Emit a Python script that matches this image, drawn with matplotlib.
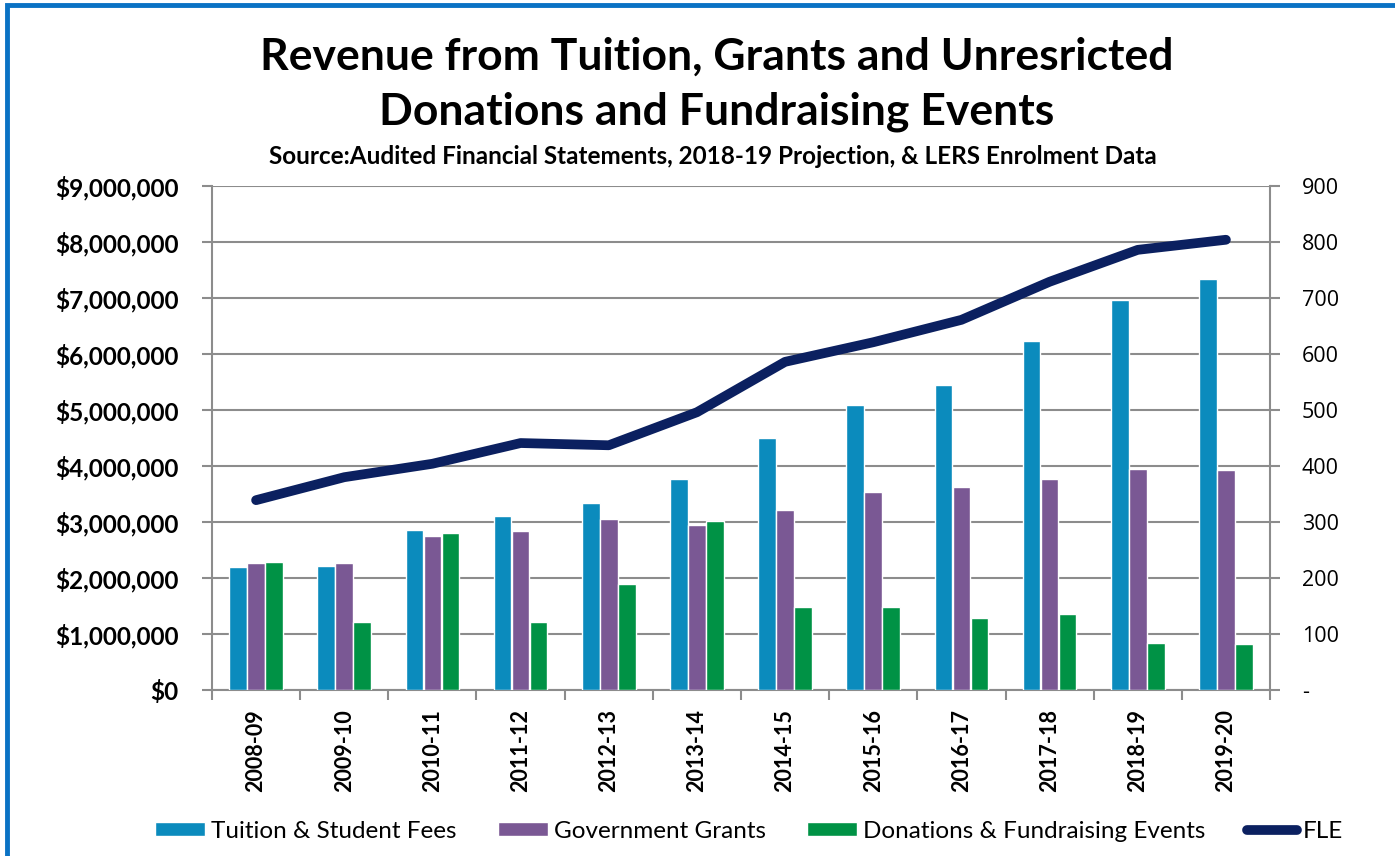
import numpy as np
import matplotlib.pyplot as plt
from matplotlib.ticker import FuncFormatter, FixedLocator
from matplotlib.patches import Rectangle

# chart data
years = ["2008-09", "2009-10", "2010-11", "2011-12", "2012-13", "2013-14",
         "2014-15", "2015-16", "2016-17", "2017-18", "2018-19", "2019-20"]
tuition = [2200000, 2210000, 2860000, 3110000, 3340000, 3770000,
           4500000, 5090000, 5450000, 6230000, 6960000, 7340000]
grants = [2270000, 2270000, 2750000, 2840000, 3050000, 2950000,
          3210000, 3540000, 3620000, 3770000, 3950000, 3930000]
donations = [2290000, 1210000, 2800000, 1210000, 1890000, 3020000,
             1480000, 1480000, 1290000, 1350000, 840000, 820000]
fle = [339, 380, 404, 441, 437, 496, 586, 621, 661, 729, 786, 804]

plt.rcParams['font.family'] = ['Lato', 'DejaVu Sans']

fig = plt.figure(figsize=(13.95, 8.56), dpi=100)
# blue frame round the chart (right and bottom edges fall outside the picture)
fig.patches.append(Rectangle((7/1395, -0.05), 1.1, 1.05 - 5/856, transform=fig.transFigure,
                             fill=False, edgecolor='#0a72c4', linewidth=3.5))

ax = fig.add_axes([212/1395, 1-690/856, (1270-212)/1395, (690-186)/856])
ax2 = ax.twinx()

x = np.arange(len(years))
w = 0.2
ax.bar(x - w*1.02, tuition, w, color='#0b8bbd', edgecolor='white', linewidth=1.0,
       label='Tuition & Student Fees', zorder=3)
ax.bar(x, grants, w, color='#7a5894', edgecolor='white', linewidth=1.0,
       label='Government Grants', zorder=3)
ax.bar(x + w*1.02, donations, w, color='#009245', edgecolor='white', linewidth=1.0,
       label='Donations & Fundraising Events', zorder=3)
ax2.plot(x, fle, color='#0b2060', linewidth=7, solid_capstyle='round',
         solid_joinstyle='round', label='FLE', zorder=4)

ax.set_xlim(-0.5, len(years) - 0.5)
ax.set_ylim(0, 9000000)
ax2.set_ylim(0, 900)
ax.set_yticks(np.arange(0, 9000001, 1000000))
ax2.set_yticks(np.arange(0, 901, 100))
ax.yaxis.set_major_formatter(FuncFormatter(lambda v, p: '${:,.0f}'.format(v)))
ax2.yaxis.set_major_formatter(FuncFormatter(lambda v, p: '-' if v == 0 else '{:.0f}'.format(v)))

ax.grid(axis='y', color='#8c8c8c', linewidth=1.5, zorder=0)
ax.set_axisbelow(True)
for a in (ax, ax2):
    for s in a.spines.values():
        s.set_color('#8c8c8c')
        s.set_linewidth(1.5)
    a.spines['top'].set_visible(False)
ax.spines['right'].set_visible(False)
ax2.spines['left'].set_visible(False)
ax2.spines['bottom'].set_visible(False)

ax.set_xticks(x)
ax.set_xticklabels(years, rotation=90, fontsize=15.5, fontweight='bold')
ax.xaxis.set_minor_locator(FixedLocator(np.arange(-0.5, len(years), 1)))
ax.tick_params(axis='x', which='major', length=0, pad=14)
ax.tick_params(axis='x', which='minor', length=7, color='#8c8c8c', width=1.5)
ax.tick_params(axis='y', length=7, color='#8c8c8c', width=1.5, labelsize=17.5, pad=17)
for t in ax.get_yticklabels():
    t.set_fontweight('bold')
ax2.tick_params(axis='y', length=7, color='#8c8c8c', width=1.5, pad=16)
for t in ax2.get_yticklabels():
    t.set_fontfamily(['Open Sans', 'DejaVu Sans'])
    t.set_fontsize(15.5)

fig.text(0.5135, 0.901, "Revenue from Tuition, Grants and Unresricted\nDonations and Fundraising Events",
         ha='center', va='center', fontsize=32, fontweight='bold', linespacing=1.45)
fig.text(0.511, 0.817, "Source:Audited Financial Statements, 2018-19 Projection, & LERS Enrolment Data",
         ha='center', va='center', fontsize=17.5, fontweight='bold')

h1, l1 = ax.get_legend_handles_labels()
h2, l2 = ax2.get_legend_handles_labels()
fig.legend(h1 + h2, l1 + l2, loc='center', bbox_to_anchor=(0.537, 0.029), ncol=4,
           frameon=False, fontsize=17.5,
           handlelength=2.05, handleheight=0.55, columnspacing=1.7, handletextpad=0.25)

fig.savefig('out.png', dpi=100)
